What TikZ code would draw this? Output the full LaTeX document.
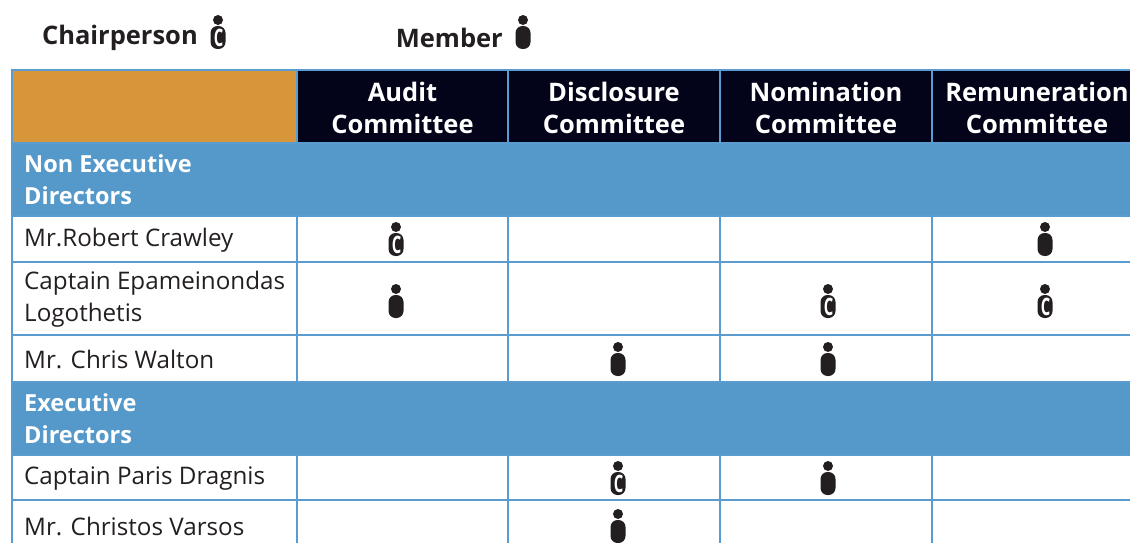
\documentclass[tikz,border=0pt]{standalone}
\usepackage{fontspec}
\setmainfont{Open Sans}
\definecolor{hdrorange}{HTML}{D8963B}
\definecolor{hdrnavy}{HTML}{03031A}
\definecolor{bandblue}{HTML}{5499CA}
\definecolor{gridblue}{HTML}{5A9BD0}
\definecolor{inkgray}{HTML}{231F20}
\tikzset{
    pics/member/.style={code={
        \fill[inkgray] (0,-12) circle[radius=5pt];
        \fill[inkgray, rounded corners=7pt] (-7.5,-6) rectangle (7.5,17);
    }},
    pics/chair/.style={code={
        \fill[inkgray] (0,-12) circle[radius=5pt];
        \fill[inkgray, rounded corners=7pt] (-7.5,-6) rectangle (7.5,17);
        \node[text=white, inner sep=0pt, font=\bfseries\fontsize{24}{24}\selectfont] (-c) at (0.6,5.5) {\scalebox{0.62}[1]{C}};
    }},
    legendlabel/.style={anchor=east, inner sep=0pt, text=inkgray, font=\bfseries\fontsize{25.5}{25.5}\selectfont},
    headlabel/.style={align=center, inner sep=0pt, text=white, font=\bfseries\fontsize{25.5}{32}\selectfont},
    bandlabel/.style={anchor=west, align=left, inner sep=0pt, text=white, font=\bfseries\fontsize{23.5}{32}\selectfont},
    rowlabel/.style={anchor=west, align=left, inner sep=0pt, text=inkgray, font=\fontsize{24.2}{32}\selectfont},
    gridline/.style={gridblue, line width=2pt}
}
\begin{document}
\begin{tikzpicture}[x=1pt, y=-1pt]
                    \useasboundingbox (0,0) rectangle (1130,543);
                    \clip (0,0) rectangle (1130,543);
                    \fill[hdrorange] (12,70) rectangle (297,143);
                    \fill[hdrnavy] (297,70) rectangle (1145,143);
                    \fill[bandblue] (12,143) rectangle (1145,216);
                    \fill[bandblue] (12,382) rectangle (1145,455);
                    \foreach \y in {70,143,216,262,335,382,455,500}
                        \draw[gridline] (12,\y) -- (1145,\y);
                    \draw[gridline] (12,69) -- (12,545);
                    \foreach \x in {297,508,720,932} {
                        \draw[gridline] (\x,70) -- (\x,143);
                        \draw[gridline] (\x,216) -- (\x,382);
                        \draw[gridline] (\x,455) -- (\x,545);
                    }
                    \node[legendlabel] (chairlbl) at (198,38) {Chairperson};
                    \pic (chairkey) at (218,32) {chair};
                    \node[legendlabel] (memberlbl) at (503,38) {Member};
                    \pic (memberkey) at (523,32) {member};
                    \node[headlabel] (audit) at (402.5,108) {Audit\\Committee};
                    \node[headlabel] (disclosure) at (614,108) {Disclosure\\Committee};
                    \node[headlabel] (nomination) at (826,108) {Nomination\\Committee};
                    \node[headlabel] (remuneration) at (1037,108) {Remuneration\\Committee};
                    \node[bandlabel] (nonexec) at (24,180) {Non Executive\\Directors};
                    \node[bandlabel] (exec) at (24,419) {Executive\\Directors};
                    \node[rowlabel] (crawley) at (24,240) {Mr.Robert Crawley};
                    \node[rowlabel] (logothetis) at (24,299.5) {Captain Epameinondas\\Logothetis};
                    \node[rowlabel] (walton) at (24,359.5) {Mr. Chris Walton};
                    \node[rowlabel] (dragnis) at (24,478.5) {Captain Paris Dragnis};
                    \node[rowlabel] (varsos) at (24,526) {Mr. Christos Varsos};
                    \pic (crawleyaud) at (396,239) {chair};
                    \pic (crawleyrem) at (1045,239) {member};
                    \pic (logoaud) at (396,301) {member};
                    \pic (logonom) at (828,301) {chair};
                    \pic (logorem) at (1045,301) {chair};
                    \pic (waltondis) at (618,359) {member};
                    \pic (waltonnom) at (828,359) {member};
                    \pic (dragnisdis) at (618,478) {chair};
                    \pic (dragnisnom) at (828,478) {member};
                    \pic (varsosdis) at (618,526) {member};
                \end{tikzpicture}
\end{document}
